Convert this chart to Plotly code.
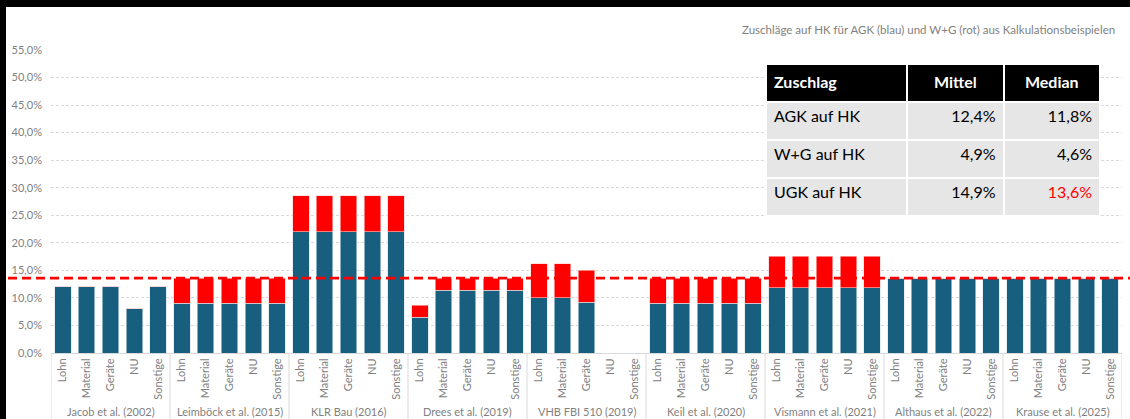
import plotly.graph_objects as go

# ---------------- data ----------------
groups = ["Jacob et al. (2002)", "Leimböck et al. (2015)", "KLR Bau (2016)",
          "Drees et al. (2019)", "VHB FBI 510 (2019)", "Keil et al. (2020)",
          "Vismann et al. (2021)", "Althaus et al. (2022)", "Krause et al. (2025)"]
cats = ["Lohn", "Material", "Geräte", "NU", "Sonstige"]

agk_blau = [12.0, 12.0, 12.0, 8.0, 12.0,
            9.0, 9.0, 9.0, 9.0, 9.0,
            22.0, 22.0, 22.0, 22.0, 22.0,
            6.5, 11.4, 11.4, 11.4, 11.4,
            10.0, 10.0, 9.2, None, None,
            9.0, 9.0, 9.0, 9.0, 9.0,
            11.8, 11.8, 11.8, 11.8, 11.8,
            13.6, 13.6, 13.6, 13.6, 13.6,
            13.6, 13.6, 13.6, 13.6, 13.6]
wg_rot = [0, 0, 0, 0, 0,
          4.6, 4.6, 4.6, 4.6, 4.6,
          6.5, 6.5, 6.5, 6.5, 6.5,
          2.2, 2.2, 2.2, 2.2, 2.2,
          6.2, 6.2, 5.8, None, None,
          4.6, 4.6, 4.6, 4.6, 4.6,
          5.8, 5.8, 5.8, 5.8, 5.8,
          0, 0, 0, 0, 0,
          0, 0, 0, 0, 0]
median_ugk = 13.6

tab_header = ["Zuschlag", "Mittel", "Median"]
tab_rows = ["AGK auf HK", "W+G auf HK", "UGK auf HK"]
tab_mittel = ["12,4%", "4,9%", "14,9%"]
tab_median = ["11,8%", "4,6%", "13,6%"]

title_text = "Zuschläge auf HK für AGK (blau) und W+G (rot) aus Kalkulationsbeispielen"
y_ticks = [0, 5, 10, 15, 20, 25, 30, 35, 40, 45, 50, 55]

# ---------------- layout geometry ----------------
W, H = 1130, 419
L, R, T, B = 51, 1122, 50, 352.7


def px_x(px):
    return (px - L) / (R - L)


def px_y(py):
    return (B - py) / (B - T)


n_c = len(cats)
inner_labels = [c for _ in groups for c in cats]
pos = list(range(len(inner_labels)))

BLUE = "#175E7F"
RED = "#FF0000"
FONT = "Lato, Open Sans, sans-serif"
GREY = "#7f7f7f"
LIGHT = "#d9d9d9"

fig = go.Figure()
fig.add_trace(go.Bar(x=pos, y=agk_blau, name="AGK",
                     marker=dict(color=BLUE, line=dict(color="#d6e4ec", width=0.6)),
                     hoverinfo="y"))
fig.add_trace(go.Bar(x=pos, y=wg_rot, name="W+G",
                     marker=dict(color=RED, line=dict(color="#ffd0d0", width=0.6)),
                     hoverinfo="y"))

# table
fig.add_trace(go.Table(
    domain=dict(x=[px_x(766), px_x(1100)], y=[px_y(220), px_y(64)]),
    columnwidth=[139, 95, 95],
    header=dict(values=["<b>%s</b>" % h for h in tab_header],
                fill_color="black",
                line=dict(color="white", width=2),
                align=["left", "center", "center"],
                font=dict(family=FONT, size=16, color="white"),
                height=38),
    cells=dict(values=[tab_rows, tab_mittel, tab_median],
               fill_color="#E6E6E6",
               line=dict(color="white", width=2),
               align=["left", "right", "right"],
               font=dict(family=FONT, size=16,
                         color=[["black"] * 3, ["black"] * 3, ["black", "black", RED]]),
               height=38),
))

shapes = [
    # median UGK line
    dict(type="line", xref="paper", yref="y",
         x0=px_x(8), x1=px_x(1130), y0=median_ugk, y1=median_ugk,
         line=dict(color=RED, width=2.6, dash="9px,5px"), layer="above"),
    # black frame (top / left)
    dict(type="rect", xref="paper", yref="paper",
         x0=px_x(0), x1=px_x(W), y0=px_y(0), y1=px_y(7),
         fillcolor="black", line=dict(width=0), layer="above"),
    dict(type="rect", xref="paper", yref="paper",
         x0=px_x(0), x1=px_x(6), y0=px_y(0), y1=px_y(H),
         fillcolor="black", line=dict(width=0), layer="above"),
]
# group dividers below the axis
for gi in range(len(groups) + 1):
    xd = gi * n_c - 0.5
    shapes.append(dict(type="line", xref="x", yref="paper",
                       x0=xd, x1=xd, y0=0, y1=px_y(H),
                       line=dict(color=LIGHT, width=1), layer="above"))

annotations = [dict(
    text=title_text, xref="paper", yref="paper",
    x=px_x(1117), y=px_y(30), xanchor="right", yanchor="middle",
    showarrow=False, font=dict(size=11.5, color=GREY, family=FONT))]
for gi, g in enumerate(groups):
    annotations.append(dict(
        text=g, xref="x", yref="paper",
        x=gi * n_c + (n_c - 1) / 2, y=px_y(411), xanchor="center", yanchor="middle",
        showarrow=False, font=dict(size=11, color=GREY, family=FONT)))

fig.update_layout(
    width=W, height=H,
    barmode="stack",
    bargap=0.31,
    showlegend=False,
    paper_bgcolor="white",
    plot_bgcolor="white",
    margin=dict(l=L, r=W - R, t=T, b=H - B, autoexpand=False),
    font=dict(family=FONT, color=GREY),
    xaxis=dict(
        range=[-0.5, len(pos) - 0.5],
        tickvals=pos,
        ticktext=inner_labels,
        tickangle=-90,
        tickfont=dict(size=11, color=GREY),
        showline=True,
        linecolor=LIGHT,
        linewidth=1,
        ticks="",
        showgrid=False,
        zeroline=False,
        automargin=False,
    ),
    yaxis=dict(
        range=[0, 55],
        tickvals=y_ticks,
        ticktext=[("%.1f" % v).replace(".", ",") + "%" for v in y_ticks],
        tickfont=dict(size=11, color=GREY),
        showgrid=True,
        gridcolor=LIGHT,
        griddash="3px,2px",
        gridwidth=1,
        zeroline=False,
        showline=False,
        ticks="",
        ticklabelstandoff=8,
        automargin=False,
    ),
    annotations=annotations,
    shapes=shapes,
)

fig.write_html(
    "out.html",
    config={"displayModeBar": False},
    post_script="document.body.style.margin='0';document.body.style.overflow='hidden';",
)
